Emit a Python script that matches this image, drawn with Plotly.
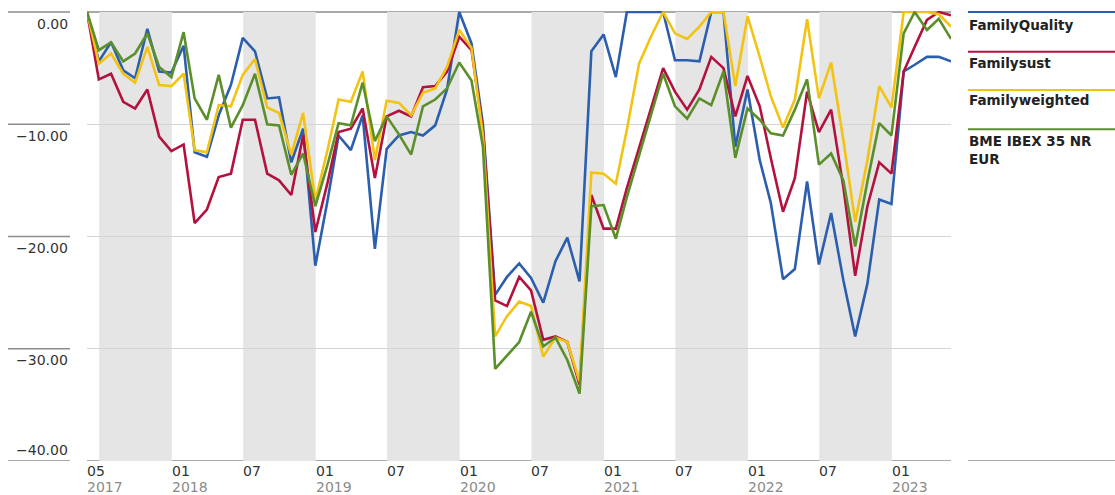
import pandas as pd
import plotly.graph_objects as go

# ---------------- data ----------------
try:
    dates = pd.date_range("2017-05-31", periods=73, freq="ME")
except Exception:
    dates = pd.date_range("2017-05-31", periods=73, freq="M")

family_quality = [
    0, -4.4, -2.7, -5.2, -5.9, -1.5, -5.3, -5.4, -3.0, -12.5, -12.9, -9.2,
    -6.5, -2.3, -3.5, -7.7, -7.6, -13.4, -10.4, -22.6, -16.8, -11.0, -12.3, -9.2,
    -21.1, -12.2, -11.0, -10.7, -11.0, -10.1, -6.9, 0, -2.8, -10.0, -25.2, -23.6,
    -22.4, -23.7, -25.9, -22.2, -20.1, -24.0, -3.5, -2.0, -5.8, 0, 0, 0,
    0, -4.3, -4.3, -4.4, 0, 0, -12.0, -6.9, -13.2, -17.0, -23.8, -22.9,
    -15.1, -22.5, -17.9, -23.9, -28.9, -24.2, -16.7, -17.1, -5.3, -4.7, -4.0, -4.0,
    -4.4,
]
family_sust = [
    0, -6.0, -5.5, -8.0, -8.6, -6.9, -11.1, -12.4, -11.8, -18.8, -17.6, -14.7,
    -14.4, -9.6, -9.6, -14.4, -15.0, -16.3, -11.0, -19.6, -15.2, -10.7, -10.4, -8.6,
    -14.8, -9.3, -8.8, -9.3, -6.7, -6.6, -5.3, -2.2, -3.4, -10.5, -25.7, -26.2,
    -23.6, -24.8, -29.2, -28.9, -29.4, -33.2, -16.3, -19.3, -19.3, -15.7, -12.1, -8.6,
    -5.0, -7.1, -8.7, -6.9, -4.0, -5.0, -9.3, -5.7, -8.4, -13.0, -17.8, -14.8,
    -7.1, -10.7, -8.7, -15.6, -23.5, -17.3, -13.4, -14.4, -5.3, -3.1, -0.7, 0,
    -0.3,
]
family_weighted = [
    0, -4.6, -3.7, -5.5, -6.3, -3.1, -6.5, -6.6, -5.5, -12.3, -12.5, -8.3,
    -8.4, -5.6, -4.2, -8.5, -9.0, -12.7, -9.0, -16.8, -12.3, -7.8, -8.0, -5.3,
    -13.2, -7.9, -8.1, -9.2, -7.2, -6.8, -4.9, -1.6, -3.2, -11.0, -28.9, -27.1,
    -25.8, -26.2, -30.7, -29.0, -29.4, -32.9, -14.3, -14.4, -15.3, -10.5, -4.6, -2.2,
    0, -1.9, -2.4, -1.3, 0, 0, -6.6, -0.4, -4.0, -7.5, -10.3, -7.8,
    -0.65, -7.7, -4.5, -11.4, -18.7, -13.2, -6.6, -8.5, 0, 0, 0, -0.2,
    -1.3,
]
ibex = [
    0, -3.4, -2.7, -4.4, -3.7, -1.9, -4.9, -5.8, -1.8, -7.7, -9.6, -5.6,
    -10.3, -8.3, -5.5, -10.0, -10.1, -14.5, -12.6, -17.3, -13.6, -9.9, -10.1, -6.3,
    -11.5, -9.3, -10.9, -12.7, -8.4, -7.8, -6.8, -4.5, -6.1, -12.0, -31.8, -30.6,
    -29.4, -26.7, -29.8, -29.0, -31.0, -34.0, -17.3, -17.2, -20.2, -16.5, -12.8, -9.2,
    -5.5, -8.4, -9.5, -7.7, -8.3, -5.3, -13.0, -8.6, -9.6, -10.8, -11.0, -8.7,
    -6.0, -13.6, -12.6, -15.0, -20.9, -15.1, -9.9, -11.0, -1.9, 0, -1.6, -0.6,
    -2.4,
]

series_names = ["FamilyQuality", "Familysust", "Familyweighted", "BME IBEX 35 NR<br>EUR"]
series_values = [family_quality, family_sust, family_weighted, ibex]
series_colors = ["#2b5fae", "#b3123f", "#f3c313", "#5b8f2a"]

x_tick_dates = ["2017-05-31", "2018-01-01", "2018-07-01", "2019-01-01", "2019-07-01",
                "2020-01-01", "2020-07-01", "2021-01-01", "2021-07-01", "2022-01-01",
                "2022-07-01", "2023-01-01"]
x_tick_months = ["05", "01", "07", "01", "07", "01", "07", "01", "07", "01", "07", "01"]
x_tick_years = ["2017", "2018", "", "2019", "", "2020", "", "2021", "", "2022", "", "2023"]

y_tick_vals = [0, -10, -20, -30, -40]
y_tick_text = ["0.00", "\u221210.00", "\u221220.00", "\u221230.00", "\u221240.00"]

band_starts = ["2017-07-01", "2018-07-01", "2019-07-01", "2020-07-01", "2021-07-01", "2022-07-01"]
band_ends = ["2018-01-01", "2019-01-01", "2020-01-01", "2021-01-01", "2022-01-01", "2023-01-01"]

# ---------------- layout geometry ----------------
W, H = 1115, 495
ML, MR, MT, MB = 87, 164, 11, 34
PW = W - ML - MR
PH = H - MT - MB
PX_PER_UNIT = 11.225
Y_TOP = PH / PX_PER_UNIT - 40


def px_x(x):
    return (x - ML) / PW


def px_y(y):
    return (H - MB - y) / PH


FONT = "DejaVu Sans"
AXIS_DARK = "#8c8c8c"

fig = go.Figure()
for name, vals, col in zip(series_names, series_values, series_colors):
    fig.add_trace(go.Scatter(x=dates, y=vals, mode="lines", name=name.replace("<br>", " "),
                             line=dict(color=col, width=2.6), showlegend=False,
                             hoverinfo="skip"))

shapes = []
for s, e in zip(band_starts, band_ends):
    shapes.append(dict(type="rect", xref="x", yref="y", x0=s, x1=e, y0=-40, y1=0,
                       fillcolor="#e5e5e5", line=dict(width=0), layer="below"))
# top (zero) line and bottom axis line
shapes.append(dict(type="line", xref="paper", yref="y", x0=0, x1=1, y0=0, y1=0,
                   line=dict(color=AXIS_DARK, width=1.5), layer="between"))
shapes.append(dict(type="line", xref="paper", yref="y", x0=0, x1=1, y0=-40, y1=-40,
                   line=dict(color=AXIS_DARK, width=1.5), layer="between"))
# axis line continuation under legend
shapes.append(dict(type="line", xref="paper", yref="y", x0=px_x(968), x1=px_x(1115), y0=-40, y1=-40,
                   line=dict(color=AXIS_DARK, width=1.5)))
# short rules at left by each y label
for v in y_tick_vals:
    shapes.append(dict(type="line", xref="paper", yref="y", x0=px_x(8), x1=px_x(70), y0=v, y1=v,
                       line=dict(color=AXIS_DARK, width=1.5)))

annotations = []
for v, t in zip(y_tick_vals, y_tick_text):
    shift = 11 if v == y_tick_vals[-1] else -11.5
    annotations.append(dict(xref="paper", yref="y", x=px_x(70), y=v, text=t, showarrow=False,
                            xanchor="right", yanchor="middle", yshift=shift,
                            font=dict(family=FONT, size=14, color="#333333")))
for d, m, yr in zip(x_tick_dates, x_tick_months, x_tick_years):
    annotations.append(dict(xref="x", yref="paper", x=d, y=0, text=m, showarrow=False,
                            xanchor="left", yanchor="middle", yshift=-10, xshift=-2,
                            font=dict(family=FONT, size=14, color="#333333")))
    if yr:
        annotations.append(dict(xref="x", yref="paper", x=d, y=0, text=yr, showarrow=False,
                                xanchor="left", yanchor="middle", yshift=-26, xshift=-2,
                                font=dict(family=FONT, size=14, color="#8a8a8a")))

# custom legend: coloured rule above each bold name
legend_line_y = [12, 51.7, 90, 129.3]
legend_text_y = [25, 62.5, 100, 149.5]
for name, col, ly, ty in zip(series_names, series_colors, legend_line_y, legend_text_y):
    shapes.append(dict(type="line", xref="paper", yref="paper", x0=px_x(968), x1=px_x(1115),
                       y0=px_y(ly), y1=px_y(ly), line=dict(color=col, width=2)))
    annotations.append(dict(xref="paper", yref="paper", x=px_x(967), y=px_y(ty), text="<b>%s</b>" % name,
                            showarrow=False, xanchor="left", yanchor="middle", align="left",
                            font=dict(family=FONT, size=13.5, color="#222222")))

fig.update_layout(
    width=W, height=H,
    margin=dict(l=ML, r=MR, t=MT, b=MB, pad=0),
    paper_bgcolor="white", plot_bgcolor="white",
    showlegend=False,
    xaxis=dict(type="date", range=[dates[0], dates[-1]], showgrid=False, showticklabels=False,
               ticks="", showline=False, zeroline=False, fixedrange=True),
    yaxis=dict(range=[-40, Y_TOP], tickvals=y_tick_vals, showticklabels=False, ticks="",
               showgrid=True, gridcolor="#d4d4d4", gridwidth=1, zeroline=False, showline=False,
               fixedrange=True),
    shapes=shapes,
    annotations=annotations,
)

fig.write_html("out.html")
